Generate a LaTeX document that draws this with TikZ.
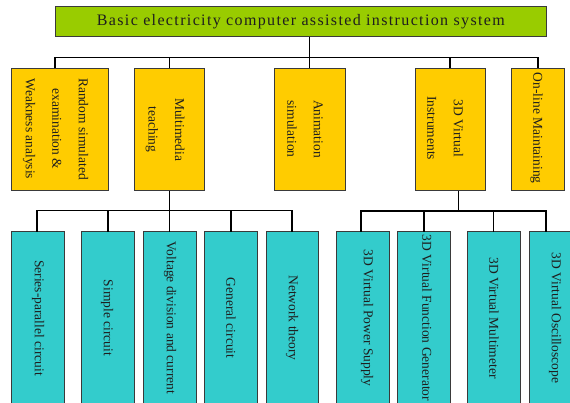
\documentclass[tikz,border=0pt]{standalone}
\usepackage{fontspec}
\setmainfont{Liberation Serif}
\definecolor{rootgreen}{HTML}{99CC00}
\definecolor{topicyellow}{HTML}{FFCC00}
\definecolor{leafcyan}{HTML}{33CCCC}
\definecolor{edgegray}{HTML}{3A3A3A}
\definecolor{inkgray}{HTML}{1E1E1E}
\begin{document}
\begin{tikzpicture}[x=1pt,y=-1pt,
  box/.style={draw=edgegray, line width=0.8pt, inner sep=0pt, outer sep=0pt, anchor=north west},
  rootbox/.style={box, fill=rootgreen, text=inkgray,
    font=\fontsize{16}{19}\selectfont\addfontfeature{LetterSpace=8.5}},
  topicbox/.style={box, fill=topicyellow, minimum height=122.4},
  leafbox/.style={box, fill=leafcyan, minimum height=176},
  vlabel/.style={rotate=-90, align=center, inner sep=0pt, text=inkgray,
    font=\fontsize{13.5}{26.5}\selectfont},
  link/.style={draw=black, line width=1.5pt}
]
\useasboundingbox (0,0) rectangle (570,403);
\clip (0,0) rectangle (570,403);

% root
\node[rootbox, minimum width=490.3, minimum height=30] (root) at (55.7,6.7)
  {Basic electricity computer assisted instruction system};

% first level
\node[topicbox, minimum width=96.6] (y1) at (11.7,68.3) {};
\node[topicbox, minimum width=70]   (y2) at (134.3,68.3) {};
\node[topicbox, minimum width=70.7] (y3) at (274.3,68.3) {};
\node[topicbox, minimum width=70]   (y4) at (415,68.3) {};
\node[topicbox, minimum width=52.3] (y5) at (511.7,68.3) {};

\node[vlabel] (t1) at (55.5,129) {Random simulated\\examination \&\\Weakness analysis};
\node[vlabel] (t2) at (165,129.5) {Multimedia\\teaching};
\node[vlabel] (t3) at (305,129) {Animation\\simulation};
\node[vlabel] (t4) at (445.3,128.3) {3D Virtual\\Instruments};
\node[vlabel] (t5) at (536.7,128.3) {On-line Maintaining};

% second level
\node[leafbox, minimum width=52.6] (c1) at (11.7,231.7) {};
\node[leafbox, minimum width=53]   (c2) at (81.7,231.7) {};
\node[leafbox, minimum width=52.7] (c3) at (143.3,231.7) {};
\node[leafbox, minimum width=53]   (c4) at (204.3,231.7) {};
\node[leafbox, minimum width=52.3] (c5) at (266,231.7) {};
\node[leafbox, minimum width=53]   (c6) at (336,231.7) {};
\node[leafbox, minimum width=53]   (c7) at (397.3,231.7) {};
\node[leafbox, minimum width=52.7] (c8) at (467.3,231.7) {};
\node[leafbox, minimum width=53]   (c9) at (529,231.7) {};

\node[vlabel] (l1) at (38,318) {Series-parallel circuit};
\node[vlabel] (l2) at (107,318) {Simple circuit};
\node[vlabel] (l3) at (170,318) {Voltage division and current};
\node[vlabel] (l4) at (231,318) {General circuit};
\node[vlabel] (l5) at (292,318) {Network theory};
\node[vlabel] (l6) at (367,318) {3D Virtual Power Supply};
\node[vlabel] (l7) at (427,318) {3D Virtual Function Generator};
\node[vlabel] (l8) at (494,318) {3D Virtual Multimeter};
\node[vlabel] (l9) at (555,318) {3D Virtual Oscilloscope};

% bus levels
\coordinate (tbus) at (0,57.3);
\coordinate (lbus) at (0,210.7);
\coordinate (rbus) at (0,211);

% root to first level
\draw[link] (root.south -| y3.north) -- (y3.north);
\draw[link] ([xshift=-5pt]y1.north) |- (tbus -| y5.north) -- (y5.north);
\draw[link] (y2.north) -- (y2.north |- tbus);
\draw[link] (y4.north) -- (y4.north |- tbus);

% multimedia teaching branch
\draw[link] (y2.south) -- (y2.south |- lbus);
\draw[link] ([xshift=-1pt]c1.north) |- (lbus -| c5.north) -- (c5.north);
\draw[link] (c2.north) -- (c2.north |- lbus);
\draw[link] (c3.north) -- (c3.north |- lbus);
\draw[link] (c4.north) -- (c4.north |- lbus);

% virtual instruments branch
\draw[link] ([xshift=8.3pt]y4.south) -- ([xshift=8.3pt]y4.south |- rbus);
\draw[link] ([xshift=-1.5pt]c6.north) |- ([xshift=-9.5pt]c9.north |- rbus) -- ([xshift=-9.5pt]c9.north);
\draw[link] (c7.north) -- (c7.north |- rbus);
\draw[link] (c8.north) -- (c8.north |- rbus);
\end{tikzpicture}
\end{document}
